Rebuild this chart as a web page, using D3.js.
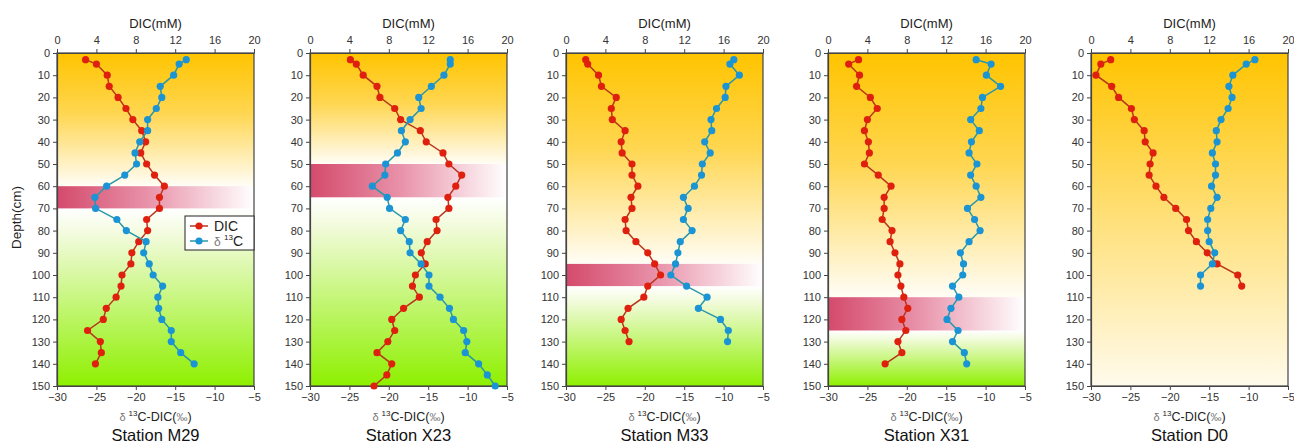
<!DOCTYPE html>
<html>
<head>
<meta charset="utf-8">
<script src="https://cdn.jsdelivr.net/npm/d3@7"></script>
<style>
  body { margin: 0; background: #fff; }
  svg { font-family: Arial, "Liberation Sans", sans-serif; }
  .tick text { fill: #333; font-size: 11px; font-family: Arial, "Liberation Sans", sans-serif; }
  .tick line, .domain { stroke: #444; }
</style>
</head>
<body>
<script>
// station names and SMTZ bands (cm)
var stations = ["M29", "X23", "M33", "X31", "D0"];
var smtzTop = [60, 50, 95, 110, null];
var smtzBottom = [70, 65, 105, 125, null];

// depths (cm)
var depthM29 = [3,5,10,15,20,25,30,35,40,45,50,55,60,65,70,75,80,85,90,95,100,105,110,115,120,125,130,135,140];
var depthX23 = [3,5,10,15,20,25,30,35,40,45,50,55,60,65,70,75,80,85,90,95,100,105,110,115,120,125,130,135,140,145,150];
var depthM33 = [3,5,10,15,20,25,30,35,40,45,50,55,60,65,70,75,80,85,90,95,100,105,110,115,120,125,130];
var depthX31 = [3,5,10,15,20,25,30,35,40,45,50,55,60,65,70,75,80,85,90,95,100,105,110,115,120,125,130,135,140];
var depthD0 = [3,5,10,15,20,25,30,35,40,45,50,55,60,65,70,75,80,85,90,95,100,105];

// DIC (mM)
var dicM29 = [2.9,4.0,5.1,5.3,6.2,7.0,7.7,8.6,9.0,8.5,9.1,9.9,10.9,10.4,10.4,9.1,9.2,8.3,7.6,7.5,6.6,6.5,6.0,5.0,4.7,3.1,4.4,4.5,3.9];
var dicX23 = [4.1,4.7,5.4,6.8,7.1,8.6,9.2,11.2,11.8,13.5,14.1,15.4,14.8,14.0,14.1,12.8,12.9,11.9,11.3,11.7,10.7,10.4,11.1,9.5,8.3,8.6,7.9,6.8,8.3,7.8,6.5];
var dicM33 = [2.0,2.2,3.3,3.6,5.1,4.6,4.7,6.0,5.6,5.7,6.7,6.7,7.3,6.6,6.7,6.0,6.1,7.1,8.3,9.0,9.6,8.3,7.9,6.3,5.6,6.0,6.4];
var dicX31 = [3.1,2.1,3.2,2.9,4.3,5.0,4.0,3.7,4.1,4.2,3.7,5.1,6.4,5.7,5.7,5.5,6.5,6.3,6.8,7.3,7.1,7.4,7.7,8.1,7.5,7.9,7.1,7.5,5.8];
var dicD0 = [2.0,1.0,0.5,2.1,2.8,4.1,4.4,5.4,5.5,6.3,6.0,5.9,6.6,7.4,8.6,9.7,9.9,10.7,11.8,12.8,14.9,15.3];

// δ13C-DIC (‰)
var d13cM29 = [-13.6,-14.5,-15.2,-16.9,-16.7,-17.4,-18.5,-18.5,-19.5,-20.1,-19.9,-21.4,-23.7,-25.2,-25.1,-22.4,-21.2,-18.7,-19.0,-18.3,-17.8,-16.6,-17.2,-17.1,-16.7,-15.5,-15.5,-14.3,-12.6];
var d13cX23 = [-12.2,-12.2,-13.0,-14.6,-16.2,-15.9,-17.3,-18.4,-17.9,-18.9,-20.4,-20.5,-22.1,-20.2,-19.9,-17.9,-18.5,-17.4,-17.3,-15.9,-14.9,-14.9,-13.5,-12.3,-11.8,-10.5,-10.1,-10.3,-8.6,-7.5,-6.5];
var d13cM33 = [-8.7,-9.2,-8.0,-9.7,-9.8,-10.9,-11.6,-11.5,-12.4,-11.7,-12.7,-12.8,-13.7,-15.1,-14.5,-15.1,-14.0,-15.5,-15.8,-16.1,-16.7,-14.7,-12.1,-13.2,-10.4,-9.4,-9.5];
var d13cX31 = [-11.2,-9.3,-9.9,-8.1,-10.4,-10.6,-11.9,-10.8,-11.8,-12.1,-11.1,-11.9,-11.2,-10.6,-12.3,-11.4,-10.7,-12.1,-13.2,-12.8,-12.9,-14.2,-13.4,-14.4,-14.9,-13.5,-14.2,-12.7,-12.4];
var d13cD0 = [-9.2,-10.3,-12.0,-12.5,-12.1,-12.6,-13.5,-14.1,-14.0,-14.6,-14.2,-14.2,-14.7,-14.0,-14.8,-15.2,-15.2,-15.0,-14.3,-14.6,-16.1,-16.1];

var depths = [depthM29, depthX23, depthM33, depthX31, depthD0];
var dics = [dicM29, dicX23, dicM33, dicX31, dicD0];
var d13cs = [d13cM29, d13cX23, d13cM33, d13cX31, d13cD0];

var dicTicks = [0, 4, 8, 12, 16, 20];
var d13cTicks = [-30, -25, -20, -15, -10, -5];
var depthTicks = d3.range(0, 151, 10);

var W = 1294, H = 444;
var panelLeft = [57, 310, 566, 828, 1091];
var pw = 197, plotTop = 53, ph = 333;

var svg = d3.select("body").append("svg")
    .attr("width", W)
    .attr("height", H);

var defs = svg.append("defs");

// band gradient: crimson on the left, fading out to the right
var bandGrad = defs.append("linearGradient")
    .attr("id", "band")
    .attr("x1", "0%").attr("x2", "100%").attr("y1", "0%").attr("y2", "0%");
bandGrad.append("stop").attr("offset", "0%").attr("stop-color", "#d44a6c");
bandGrad.append("stop").attr("offset", "45%").attr("stop-color", "#e890a8");
bandGrad.append("stop").attr("offset", "100%").attr("stop-color", "#ffffff");

var y = d3.scaleLinear().domain([0, 150]).range([0, ph]);
var xDic = d3.scaleLinear().domain([0, 20]).range([0, pw]);
var xC = d3.scaleLinear().domain([-30, -5]).range([0, pw]);

stations.forEach(function (name, k) {
    var g = svg.append("g")
        .attr("transform", "translate(" + panelLeft[k] + "," + plotTop + ")");

    // background gradient
    var bg = defs.append("linearGradient")
        .attr("id", "bg" + k)
        .attr("x1", "0%").attr("x2", "0%").attr("y1", "0%").attr("y2", "100%");
    if (smtzTop[k] != null) {
        var t = smtzTop[k] / 150, b = smtzBottom[k] / 150;
        bg.append("stop").attr("offset", 0).attr("stop-color", "#ffc400");
        bg.append("stop").attr("offset", t * 0.45).attr("stop-color", "#ffd650");
        bg.append("stop").attr("offset", t).attr("stop-color", "#fffdf6");
        bg.append("stop").attr("offset", b).attr("stop-color", "#ffffff");
        bg.append("stop").attr("offset", b + (1 - b) * 0.15).attr("stop-color", "#f2fbdc");
        bg.append("stop").attr("offset", 1).attr("stop-color", "#8ef000");
    } else {
        bg.append("stop").attr("offset", 0).attr("stop-color", "#ffc400");
        bg.append("stop").attr("offset", 0.5).attr("stop-color", "#ffe07a");
        bg.append("stop").attr("offset", 1).attr("stop-color", "#fffbec");
    }

    g.append("rect")
        .attr("width", pw)
        .attr("height", ph)
        .attr("fill", "url(#bg" + k + ")");

    if (smtzTop[k] != null) {
        g.append("rect")
            .attr("x", 0)
            .attr("y", y(smtzTop[k]))
            .attr("width", pw)
            .attr("height", y(smtzBottom[k]) - y(smtzTop[k]))
            .attr("fill", "url(#band)");
    }

    // frame
    g.append("rect")
        .attr("width", pw)
        .attr("height", ph)
        .attr("fill", "none")
        .attr("stroke", "#444")
        .attr("stroke-width", 1.2);

    // axes
    g.append("g")
        .call(d3.axisLeft(y).tickValues(depthTicks).tickSize(4).tickSizeOuter(0));
    g.append("g")
        .call(d3.axisTop(xDic).tickValues(dicTicks).tickSize(4).tickPadding(5).tickSizeOuter(0));
    g.append("g")
        .attr("transform", "translate(0," + ph + ")")
        .call(d3.axisBottom(xC).tickValues(d13cTicks).tickSize(4).tickSizeOuter(0));
    g.selectAll(".domain").attr("stroke-width", 1.2);

    // titles
    g.append("text")
        .attr("x", pw / 2)
        .attr("y", -25)
        .attr("text-anchor", "middle")
        .attr("font-size", 13)
        .attr("fill", "#222")
        .text("DIC(mM)");

    var xt = g.append("text")
        .attr("x", pw / 2)
        .attr("y", ph + 35)
        .attr("text-anchor", "middle")
        .attr("font-size", 12.5)
        .attr("fill", "#222");
    xt.append("tspan").attr("fill", "#777").attr("font-size", 11).text("δ ");
    xt.append("tspan").attr("font-size", 8).attr("dy", -5).text("13");
    xt.append("tspan").attr("dy", 5).text("C-DIC(");
    xt.append("tspan").attr("fill", "#777").attr("font-size", 11).text("‰");
    xt.append("tspan").text(")");

    g.append("text")
        .attr("x", pw / 2)
        .attr("y", ph + 55)
        .attr("text-anchor", "middle")
        .attr("font-size", 16.5)
        .attr("fill", "#111")
        .text("Station " + name);

    // series
    var rowsDic = depths[k].map(function (d, i) { return [dics[k][i], d]; });
    var rowsC = depths[k].map(function (d, i) { return [d13cs[k][i], d]; });

    var lineDic = d3.line()
        .x(function (d) { return xDic(d[0]); })
        .y(function (d) { return y(d[1]); });
    var lineC = d3.line()
        .x(function (d) { return xC(d[0]); })
        .y(function (d) { return y(d[1]); });

    g.append("path")
        .datum(rowsDic)
        .attr("d", lineDic)
        .attr("fill", "none")
        .attr("stroke", "#b8361c")
        .attr("stroke-width", 1.5);
    g.selectAll("circle.dic")
        .data(rowsDic)
        .enter().append("circle")
        .attr("class", "dic")
        .attr("cx", function (d) { return xDic(d[0]); })
        .attr("cy", function (d) { return y(d[1]); })
        .attr("r", 3.6)
        .attr("fill", "#e0200e");

    g.append("path")
        .datum(rowsC)
        .attr("d", lineC)
        .attr("fill", "none")
        .attr("stroke", "#2a98a8")
        .attr("stroke-width", 1.5);
    g.selectAll("circle.c13")
        .data(rowsC)
        .enter().append("circle")
        .attr("class", "c13")
        .attr("cx", function (d) { return xC(d[0]); })
        .attr("cy", function (d) { return y(d[1]); })
        .attr("r", 3.6)
        .attr("fill", "#1a94d4");

    // legend only on first panel
    if (k === 0) {
        var lg = g.append("g").attr("transform", "translate(" + (pw - 69) + "," + 163 + ")");
        lg.append("rect")
            .attr("width", 69)
            .attr("height", 34)
            .attr("fill", "#fff")
            .attr("stroke", "#222")
            .attr("stroke-width", 1);
        var items = [["DIC", "#b8361c", "#e0200e"], ["δ", "#2a98a8", "#1a94d4"]];
        items.forEach(function (it, j) {
            var yy = 10 + j * 15;
            lg.append("line").attr("x1", 5).attr("x2", 23).attr("y1", yy).attr("y2", yy)
                .attr("stroke", it[1]).attr("stroke-width", 1.5);
            lg.append("circle").attr("cx", 14).attr("cy", yy).attr("r", 3.6).attr("fill", it[2]);
            var tx = lg.append("text").attr("x", 29).attr("y", yy + 5)
                .attr("font-size", 14).attr("fill", "#222");
            if (j === 0) {
                tx.text("DIC");
            } else {
                tx.append("tspan").attr("fill", "#777").attr("font-size", 12).text("δ ");
                tx.append("tspan").attr("font-size", 8).attr("dy", -6).text("13");
                tx.append("tspan").attr("dy", 6).text("C");
            }
        });
    }
});

// shared y label
svg.append("text")
    .attr("transform", "translate(21," + (plotTop + ph / 2 - 2) + ") rotate(-90)")
    .attr("text-anchor", "middle")
    .attr("font-size", 13.5)
    .attr("fill", "#222")
    .text("Depth(cm)");
</script>
</body>
</html>
